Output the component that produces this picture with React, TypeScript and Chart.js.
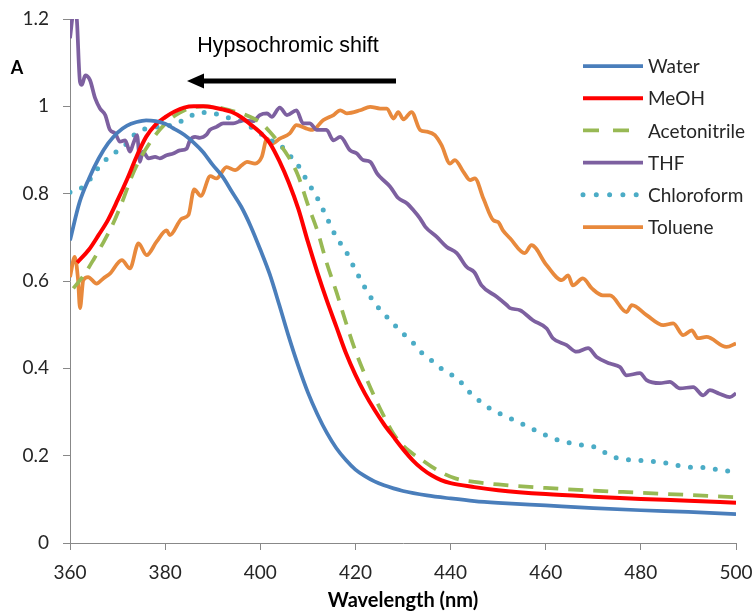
import React, { useEffect, useRef } from 'react';
import { Chart, registerables } from 'chart.js';

Chart.register(...registerables);

// ---- Data (wavelength in nm, absorbance normalised) ----
const xTicks = [360, 380, 400, 420, 440, 460, 480, 500];
const yTicks = [0, 0.2, 0.4, 0.6, 0.8, 1, 1.2];

const seriesNames = ['Water', 'MeOH', 'Acetonitrile', 'THF', 'Chloroform', 'Toluene'];

const waterX = [360, 362, 364, 366, 368, 370, 372, 374, 376, 378, 380, 382, 384, 386, 388, 390, 392, 394, 396, 398, 400, 402, 404, 406, 408, 410, 412, 414, 416, 418, 420, 422, 424, 426, 428, 430, 435, 440, 445, 450, 460, 470, 480, 490, 500];
const waterY = [0.693, 0.78, 0.835, 0.88, 0.915, 0.94, 0.956, 0.964, 0.968, 0.966, 0.96, 0.948, 0.935, 0.917, 0.895, 0.866, 0.84, 0.805, 0.77, 0.725, 0.672, 0.615, 0.545, 0.472, 0.405, 0.345, 0.295, 0.252, 0.217, 0.19, 0.168, 0.153, 0.141, 0.132, 0.125, 0.119, 0.109, 0.102, 0.096, 0.092, 0.086, 0.08, 0.075, 0.071, 0.066];

const meohX = [361.5, 364, 366, 368, 370, 372, 374, 376, 378, 380, 382, 384, 386, 388, 390, 392, 394, 396, 398, 400, 402, 404, 406, 408, 410, 412, 414, 416, 418, 420, 422, 424, 426, 428, 430, 432, 434, 436, 438, 440, 445, 450, 460, 470, 480, 490, 500];
const meohY = [0.642, 0.672, 0.705, 0.74, 0.785, 0.833, 0.885, 0.93, 0.958, 0.975, 0.988, 0.997, 1.0, 1.0, 0.998, 0.993, 0.987, 0.975, 0.958, 0.94, 0.916, 0.875, 0.825, 0.765, 0.69, 0.62, 0.555, 0.495, 0.435, 0.385, 0.342, 0.305, 0.272, 0.243, 0.215, 0.19, 0.17, 0.155, 0.144, 0.137, 0.128, 0.121, 0.112, 0.106, 0.101, 0.097, 0.092];

const acnX = [360.7, 363, 365, 367, 369, 371, 373, 375, 377, 379, 381, 383, 385, 388, 391, 394, 397, 400, 402, 404, 406, 408, 410, 412, 414, 416, 418, 420, 422, 424, 426, 428, 430, 432, 434, 436, 438, 441, 445, 450, 460, 470, 480, 490, 500];
const acnY = [0.583, 0.615, 0.65, 0.688, 0.73, 0.782, 0.84, 0.885, 0.92, 0.948, 0.97, 0.985, 0.995, 1.0, 0.998, 0.99, 0.98, 0.963, 0.942, 0.915, 0.883, 0.84, 0.775, 0.715, 0.64, 0.575, 0.505, 0.44, 0.385, 0.335, 0.29, 0.25, 0.223, 0.205, 0.19, 0.175, 0.162, 0.148, 0.14, 0.134, 0.126, 0.12, 0.115, 0.11, 0.105];

const thfX = [360, 360.7, 361.3, 362.1, 362.5, 363.2, 364.2, 365.3, 366.3, 367.4, 368.4, 369.5, 370.5, 371.6, 372.6, 373.3, 374.1, 374.7, 375.3, 376.5, 377.9, 378.9, 380.3, 381.7, 383.1, 384.5, 385.2, 386.3, 387.3, 388.7, 389.4, 390.8, 392.2, 394.3, 396.4, 398.5, 399.9, 401.4, 402.4, 404.1, 405.6, 407.6, 409, 410.4, 411.9, 413.9, 415.4, 416.8, 418.9, 420.3, 421.6, 423.1, 424.5, 425.2, 427.3, 429, 430.8, 432.2, 433.6, 434.7, 437.1, 439.2, 441.3, 443.4, 445, 446.5, 449.7, 451.8, 452.5, 454.6, 457.3, 460.2, 461.5, 464.4, 466.5, 468.9, 470.7, 473.5, 475.6, 477, 479.8, 481.2, 484, 486.1, 488.2, 491, 493.1, 494.5, 496.5, 498.7, 500];
const thfY = [1.156, 1.21, 1.21, 1.056, 1.049, 1.071, 1.06, 1.018, 0.995, 0.98, 0.946, 0.938, 0.919, 0.922, 0.896, 0.915, 0.934, 0.873, 0.896, 0.881, 0.884, 0.881, 0.888, 0.892, 0.899, 0.903, 0.922, 0.93, 0.928, 0.935, 0.946, 0.953, 0.961, 0.961, 0.968, 0.966, 0.98, 0.984, 0.976, 0.997, 0.98, 0.991, 0.961, 0.961, 0.946, 0.946, 0.922, 0.93, 0.899, 0.892, 0.877, 0.873, 0.847, 0.838, 0.816, 0.79, 0.778, 0.762, 0.743, 0.724, 0.701, 0.678, 0.664, 0.632, 0.62, 0.59, 0.564, 0.545, 0.538, 0.533, 0.51, 0.491, 0.469, 0.453, 0.438, 0.446, 0.426, 0.411, 0.403, 0.384, 0.389, 0.373, 0.366, 0.369, 0.354, 0.357, 0.338, 0.35, 0.342, 0.334, 0.343];

const chlX = [360, 362, 364, 366, 368, 370, 372, 374, 376, 378, 380, 382, 384, 386, 388, 390, 392, 394, 396, 398, 400, 402, 404, 406, 408, 410, 412, 414, 416, 418, 420, 422, 424, 426, 428, 430, 432, 434, 436, 438, 440, 442, 444, 446, 448, 450, 452, 454, 456, 458, 460, 462, 464, 466, 468, 470, 472, 474, 476, 478, 480, 482, 484, 486, 488, 490, 492, 494, 496, 498, 500];
const chlY = [0.803, 0.81, 0.83, 0.86, 0.882, 0.898, 0.915, 0.94, 0.949, 0.952, 0.955, 0.958, 0.97, 0.981, 0.986, 0.985, 0.977, 0.972, 0.966, 0.953, 0.938, 0.923, 0.913, 0.89, 0.864, 0.826, 0.79, 0.745, 0.7, 0.668, 0.625, 0.585, 0.55, 0.525, 0.502, 0.48, 0.46, 0.435, 0.418, 0.4, 0.387, 0.37, 0.345, 0.326, 0.31, 0.298, 0.288, 0.278, 0.268, 0.257, 0.247, 0.238, 0.232, 0.227, 0.224, 0.221, 0.21, 0.198, 0.193, 0.19, 0.189, 0.187, 0.185, 0.182, 0.177, 0.174, 0.173, 0.172, 0.168, 0.165, 0.162];

const tolX = [360, 361, 361.7, 362.1, 362.8, 363.8, 365.6, 367, 368.4, 370.9, 372.6, 374.4, 376.1, 378.2, 380.3, 381, 383.5, 384.9, 386.1, 387.5, 389.5, 390.8, 392.9, 394.7, 396.1, 397.2, 398.9, 400.3, 401.4, 402.4, 404.1, 406.2, 407.6, 410, 411, 413.2, 415.4, 416.8, 418.2, 421, 423.1, 425.2, 426.6, 428, 429, 430.1, 431.8, 433.6, 435, 436.7, 438.1, 439.9, 440.9, 442.7, 444.1, 445.1, 446.9, 449, 450, 451, 452.5, 455.6, 457, 460.2, 463.4, 464.7, 465.7, 467.8, 469.7, 472, 473.5, 477, 478.1, 481.2, 484.7, 486.8, 488.9, 490.7, 492, 493.8, 498, 500];
const tolY = [0.609, 0.655, 0.602, 0.538, 0.602, 0.609, 0.594, 0.606, 0.617, 0.648, 0.629, 0.686, 0.659, 0.69, 0.716, 0.705, 0.743, 0.751, 0.81, 0.795, 0.84, 0.835, 0.861, 0.854, 0.865, 0.873, 0.869, 0.884, 0.926, 0.915, 0.926, 0.938, 0.957, 0.948, 0.946, 0.968, 0.98, 0.991, 0.984, 0.991, 0.999, 0.995, 0.995, 0.972, 0.987, 0.97, 0.987, 0.946, 0.942, 0.934, 0.911, 0.869, 0.877, 0.85, 0.831, 0.835, 0.789, 0.739, 0.735, 0.716, 0.698, 0.664, 0.682, 0.636, 0.602, 0.613, 0.59, 0.606, 0.583, 0.567, 0.567, 0.529, 0.545, 0.522, 0.499, 0.503, 0.476, 0.487, 0.469, 0.472, 0.449, 0.457];

const annotationText = 'Hypsochromic shift';
const yAxisTitle = 'A';
const xAxisTitle = 'Wavelength (nm)';

const colors = ['#4A7EBB', '#FF0000', '#98B954', '#7D60A0', '#4BACC6', '#E8893C'];

const toPts = (xs: number[], ys: number[]) => xs.map((x, i) => ({ x, y: ys[i] }));

const W = 753;
const H = 611;

const overlayPlugin = {
  id: 'overlay',
  afterDraw(chart: any) {
    const ctx = chart.ctx as CanvasRenderingContext2D;
    const area = chart.chartArea;
    ctx.save();
    // Legend
    ctx.font = '19px Lato';
    ctx.textAlign = 'left';
    ctx.textBaseline = 'middle';
    chart.data.datasets.forEach((ds: any, i: number) => {
      const y = 66 + i * 32.2;
      ctx.strokeStyle = ds.borderColor;
      ctx.lineWidth = ds.borderWidth;
      ctx.lineCap = ds.borderCapStyle || 'butt';
      ctx.setLineDash(ds.legendDash || []);
      ctx.beginPath();
      ctx.moveTo(583, y);
      ctx.lineTo(643, y);
      ctx.stroke();
      ctx.setLineDash([]);
      ctx.fillStyle = '#262626';
      ctx.fillText(ds.label, 648, y + 1);
    });
    // Annotation text
    ctx.fillStyle = '#000';
    ctx.font = '21.5px "Liberation Sans", Arial, sans-serif';
    ctx.textAlign = 'center';
    ctx.textBaseline = 'alphabetic';
    ctx.fillText(annotationText, 288, 52);
    // Arrow
    ctx.strokeStyle = '#000';
    ctx.lineWidth = 5;
    ctx.lineCap = 'butt';
    ctx.beginPath();
    ctx.moveTo(200, 81);
    ctx.lineTo(396, 81);
    ctx.stroke();
    ctx.fillStyle = '#000';
    ctx.beginPath();
    ctx.moveTo(187, 81);
    ctx.lineTo(204, 73.5);
    ctx.lineTo(204, 88.5);
    ctx.closePath();
    ctx.fill();
    // Axis titles
    ctx.fillStyle = '#000';
    ctx.font = 'bold 18px Lato';
    ctx.textAlign = 'center';
    ctx.textBaseline = 'middle';
    ctx.fillText(yAxisTitle, 17, 68);
    ctx.font = 'bold 20px Lato';
    ctx.fillText(xAxisTitle, (area.left + area.right) / 2, 601);
    ctx.restore();
  },
};

export default function App() {
  const ref = useRef<HTMLCanvasElement | null>(null);
  useEffect(() => {
    const canvas = ref.current;
    if (!canvas) return;
    const common = {
      pointRadius: 0,
      fill: false,
      cubicInterpolationMode: 'monotone' as const,
      borderWidth: 3.75,
    };
    const chart = new Chart(canvas, {
      type: 'line',
      data: {
        datasets: [
          { ...common, label: seriesNames[0], data: toPts(waterX, waterY), borderColor: colors[0] },
          { ...common, label: seriesNames[1], data: toPts(meohX, meohY), borderColor: colors[1], borderWidth: 4 },
          { ...common, label: seriesNames[2], data: toPts(acnX, acnY), borderColor: colors[2], borderDash: [15, 10], legendDash: [16, 14] } as any,
          { ...common, label: seriesNames[3], data: toPts(thfX, thfY), borderColor: colors[3] },
          { ...common, label: seriesNames[4], data: toPts(chlX, chlY), borderColor: colors[4], borderWidth: 5, borderCapStyle: 'round', borderDash: [0, 12.5], legendDash: [0, 13.3] } as any,
          { ...common, label: seriesNames[5], data: toPts(tolX, tolY), borderColor: colors[5] },
        ],
      },
      options: {
        responsive: false,
        animation: false,
        devicePixelRatio: 1,
        layout: { padding: { top: 19, right: 17, left: 0, bottom: 0 } },
        plugins: { legend: { display: false }, tooltip: { enabled: false } },
        scales: {
          x: {
            type: 'linear',
            min: xTicks[0],
            max: xTicks[xTicks.length - 1],
            afterBuildTicks: (scale: any) => { scale.ticks = xTicks.map((v) => ({ value: v })); },
            afterFit: (scale: any) => {
              scale.height = H - 543;
              scale.paddingLeft = 0;
              scale.paddingRight = 0;
            },
            grid: { drawOnChartArea: false, drawTicks: true, tickLength: 7, color: '#888' },
            border: { display: true, color: '#888', width: 1 },
            ticks: { font: { family: 'Lato', size: 19 }, color: '#262626', padding: 11, maxRotation: 0 },
          },
          y: {
            type: 'linear',
            min: yTicks[0],
            max: yTicks[yTicks.length - 1],
            afterBuildTicks: (scale: any) => { scale.ticks = yTicks.map((v) => ({ value: v })); },
            afterFit: (scale: any) => {
              scale.width = 70;
              scale.paddingTop = 0;
              scale.paddingBottom = 0;
            },
            grid: { drawOnChartArea: false, drawTicks: true, tickLength: 7, color: '#888' },
            border: { display: true, color: '#888', width: 1 },
            ticks: { font: { family: 'Lato', size: 19 }, color: '#262626', padding: 14, callback: (v: any) => String(Math.round(Number(v) * 10) / 10) },
          },
        },
      },
      plugins: [overlayPlugin],
    });
    return () => chart.destroy();
  }, []);
  return (
    <div style={{ position: 'absolute', left: 0, top: 0, width: W, height: H, background: '#fff' }}>
      <canvas ref={ref} width={W} height={H} style={{ width: W, height: H, display: 'block' }} />
    </div>
  );
}
